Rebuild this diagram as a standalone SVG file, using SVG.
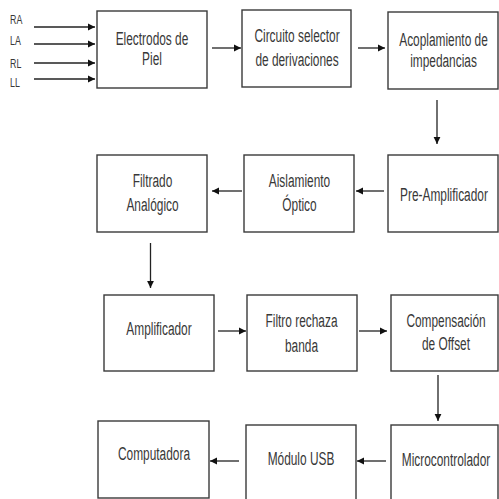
<svg xmlns="http://www.w3.org/2000/svg" width="499" height="499" viewBox="0 0 499 499">
<style>
.box{fill:#fff;stroke:#3a3a3a;stroke-width:1.4}
.t{font-family:"Liberation Sans",Arial,sans-serif;font-size:18px;fill:#383838;text-anchor:middle}
.l{font-family:"Liberation Sans",Arial,sans-serif;font-size:12px;fill:#383838}
.c{stroke:#222;stroke-width:1.3;fill:none;marker-end:url(#ah)}
</style>
<defs>
<marker id="ah" markerUnits="userSpaceOnUse" markerWidth="8" markerHeight="8" refX="7" refY="4" orient="auto">
<path d="M0,0.6 L7,4 L0,7.4 Z" fill="#111"/>
</marker>
</defs>
<rect width="499" height="499" fill="#fff"/>
<g id="inputs">
<text class="l" transform="matrix(0.74 0 0 1 10 24)">RA</text>
<text class="l" transform="matrix(0.74 0 0 1 10 45)">LA</text>
<text class="l" transform="matrix(0.74 0 0 1 10 68)">RL</text>
<text class="l" transform="matrix(0.74 0 0 1 10 87)">LL</text>
</g>
<g id="connectors">
<line class="c" x1="34" y1="27" x2="95" y2="27"/>
<line class="c" x1="34" y1="44" x2="95" y2="44"/>
<line class="c" x1="34" y1="63" x2="95" y2="63"/>
<line class="c" x1="34" y1="79" x2="95" y2="79"/>
<line class="c" x1="212" y1="48" x2="241" y2="48"/>
<line class="c" x1="358" y1="48" x2="385" y2="48"/>
<line class="c" x1="437" y1="100" x2="437" y2="144"/>
<line class="c" x1="384" y1="191" x2="356" y2="191"/>
<line class="c" x1="242" y1="191" x2="212" y2="191"/>
<line class="c" x1="150.5" y1="243" x2="150.5" y2="288"/>
<line class="c" x1="218" y1="331" x2="246" y2="331"/>
<line class="c" x1="359" y1="331" x2="387" y2="331"/>
<line class="c" x1="438" y1="375" x2="438" y2="421"/>
<line class="c" x1="386" y1="461" x2="357" y2="461"/>
<line class="c" x1="239" y1="461" x2="210" y2="461"/>
</g>
<g id="electrodos">
<rect class="box" x="97" y="11" width="110" height="77"/>
<g transform="matrix(0.66 0 0 1 152 0)"><text class="t" x="0" y="45">Electrodos de</text><text class="t" x="0" y="65">Piel</text></g>
</g>
<g id="circuito">
<rect class="box" x="242" y="10" width="109" height="77"/>
<g transform="matrix(0.66 0 0 1 297 0)"><text class="t" x="0" y="42">Circuito selector</text><text class="t" x="0" y="66">de derivaciones</text></g>
</g>
<g id="acoplamiento">
<rect class="box" x="388" y="12" width="110" height="77"/>
<g transform="matrix(0.66 0 0 1 443.5 0)"><text class="t" x="0" y="46">Acoplamiento de</text><text class="t" x="0" y="67">impedancias</text></g>
</g>
<g id="filtrado">
<rect class="box" x="97" y="155" width="110" height="77"/>
<g transform="matrix(0.66 0 0 1 152.5 0)"><text class="t" x="0" y="187">Filtrado</text><text class="t" x="0" y="211">Analógico</text></g>
</g>
<g id="aislamiento">
<rect class="box" x="244" y="155" width="110" height="77"/>
<g transform="matrix(0.66 0 0 1 299.5 0)"><text class="t" x="0" y="187">Aislamiento</text><text class="t" x="0" y="211">Óptico</text></g>
</g>
<g id="preamp">
<rect class="box" x="388" y="155" width="110" height="77"/>
<g transform="matrix(0.66 0 0 1 444 0)"><text class="t" x="0" y="201">Pre-Amplificador</text></g>
</g>
<g id="amplificador">
<rect class="box" x="104" y="295" width="110" height="76"/>
<g transform="matrix(0.66 0 0 1 159 0)"><text class="t" x="0" y="335">Amplificador</text></g>
</g>
<g id="filtro">
<rect class="box" x="247" y="295" width="110" height="76"/>
<g transform="matrix(0.66 0 0 1 301.5 0)"><text class="t" x="0" y="327">Filtro rechaza</text><text class="t" x="0" y="352">banda</text></g>
</g>
<g id="compensacion">
<rect class="box" x="391" y="295" width="107" height="76"/>
<g transform="matrix(0.66 0 0 1 446 0)"><text class="t" x="0" y="327">Compensación</text><text class="t" x="0" y="350">de Offset</text></g>
</g>
<g id="computadora">
<rect class="box" x="98" y="421" width="111" height="77"/>
<g transform="matrix(0.66 0 0 1 154 0)"><text class="t" x="0" y="460">Computadora</text></g>
</g>
<g id="usb">
<rect class="box" x="246" y="425" width="110" height="80"/>
<g transform="matrix(0.66 0 0 1 301 0)"><text class="t" x="0" y="465">Módulo USB</text></g>
</g>
<g id="micro">
<rect class="box" x="391" y="425" width="107" height="80"/>
<g transform="matrix(0.66 0 0 1 446 0)"><text class="t" x="0" y="466">Microcontrolador</text></g>
</g>
</svg>
